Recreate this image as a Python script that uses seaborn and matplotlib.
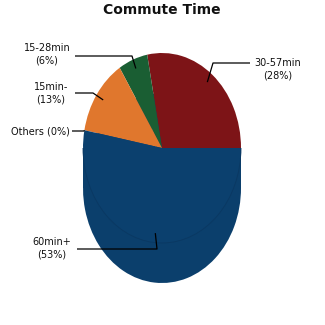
import matplotlib
matplotlib.use("Agg")
import matplotlib.pyplot as plt
import matplotlib.patches as mpatches
import numpy as np
import seaborn as sns

# ---- data ----
categories = ["30-57min", "15-28min", "15min-", "Others", "60min+"]
values = [28, 6, 13, 0, 53]
colors = ["#7d1417", "#1a5e33", "#e0772d", "#5a7fa8", "#0b406e"]
title = "Commute Time"

sns.set_theme(style="white")
plt.rcParams['font.family'] = ['DejaVu Sans']

W = H = 325
fig = plt.figure(figsize=(3.25, 3.25), dpi=100)
ax = fig.add_axes([0, 0, 1, 1])

# geometry (pixels)
CX, CY, RX, RY = 162, 148, 79, 95
DEPTH = 40 / RY

def px(x, y):
    return ((x - CX) / RX, (CY - y) / RY)

# side (extrusion) drawn first, top face drawn over it
side_col = "#0b3f6c"
ax.add_patch(mpatches.Rectangle((-1.0, -DEPTH), 2.0, DEPTH, facecolor=side_col,
                                edgecolor="none", zorder=1))
ax.pie(values, colors=[side_col] * len(values), startangle=0, counterclock=True,
       center=(0, -DEPTH), radius=1,
       wedgeprops=dict(linewidth=0, zorder=1))
wedges, _ = ax.pie(values, colors=colors, startangle=0, counterclock=True,
                   center=(0, 0), radius=1,
                   wedgeprops=dict(linewidth=0, antialiased=True))
for w in wedges:
    w.set_zorder(3)
# faint rim of the top face over the front side
ax.add_patch(mpatches.Arc((0, 0), 2, 2, theta1=180, theta2=360,
                          color="#0a3862", lw=0.6, zorder=4))

ax.set_aspect('auto')
ax.set_xlim((0 - CX) / RX, (W - CX) / RX)
ax.set_ylim((CY - H) / RY, (CY - 0) / RY)
ax.axis('off')

# labels with elbow leader lines
total = sum(values)
cum = 0
mids = []
for v in values:
    a = np.deg2rad(360 * (cum + v / 2) / total)
    mids.append(a)
    cum += v

label_pos = {
    "30-57min": dict(text=(278, 69), hline=(250, 63, 213)),
    "15-28min": dict(text=(47, 54), hline=(75, 56, 132)),
    "15min-": dict(text=(51, 93), hline=(75, 93, 93)),
    "Others": dict(text=(40, 131), hline=(72, 131, 84)),
    "60min+": dict(text=(52, 248), hline=(77, 249, 157)),
}

for cat, v, a in zip(categories, values, mids):
    r = 0.9 if v > 0 else 1.0
    ax_, ay_ = r * np.cos(a), r * np.sin(a)
    p = label_pos[cat]
    x0, yl, x1 = p["hline"]
    hx0, hy = px(x0, yl)
    hx1, _ = px(x1, yl)
    ax.plot([hx0, hx1, ax_], [hy, hy, ay_], color="black", lw=0.9, zorder=5,
            solid_capstyle='butt')
    if v > 0:
        txt = f"{cat}\n({v}%)"
    else:
        txt = f"{cat} ({v}%)"
    tx, ty = px(*p["text"])
    ax.text(tx, ty, txt, ha="center", va="center", fontsize=7, linespacing=1.35,
            color="#111111", zorder=6)

tx, ty = px(162, 10)
ax.text(tx, ty, title, ha="center", va="center", fontsize=10, fontweight="bold",
        color="#111111")

fig.savefig("out.png", dpi=100)
